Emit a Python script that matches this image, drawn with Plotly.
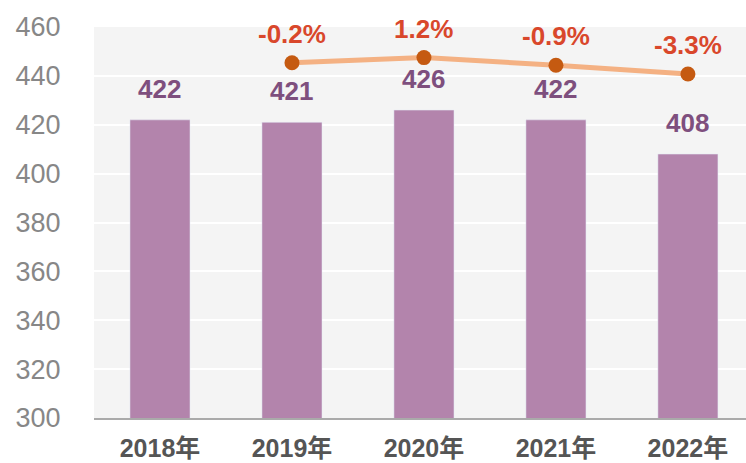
import plotly.graph_objects as go

years = ["2018年", "2019年", "2020年", "2021年", "2022年"]
values = [422, 421, 426, 422, 408]
growth_years = ["2019年", "2020年", "2021年", "2022年"]
growth = [-0.2, 1.2, -0.9, -3.3]
growth_labels = ["-0.2%", "1.2%", "-0.9%", "-3.3%"]
y_ticks = [300, 320, 340, 360, 380, 400, 420, 440, 460]

FONT = "Liberation Sans, Arial, Noto Sans CJK SC"

fig = go.Figure()
fig.add_trace(go.Bar(
    x=years, y=values, marker_color="#b384ac", width=0.455,
    hoverinfo="skip", showlegend=False, yaxis="y",
))
fig.add_trace(go.Scatter(
    x=growth_years, y=growth, mode="lines+markers", yaxis="y2",
    line=dict(color="#f4b183", width=5),
    marker=dict(color="#c55a11", size=15),
    showlegend=False, cliponaxis=False,
))

annotations = []
for x, v in zip(years, values):
    annotations.append(dict(
        x=x, y=v, xref="x", yref="y", text=f"<b>{v}</b>", showarrow=False,
        yanchor="bottom", yshift=14,
        font=dict(family=FONT, size=26, color="#7e4f7e"),
    ))
for x, g, t in zip(growth_years, growth, growth_labels):
    annotations.append(dict(
        x=x, y=g, xref="x", yref="y2", text=f"<b>{t}</b>", showarrow=False,
        yanchor="bottom", yshift=12,
        font=dict(family=FONT, size=26, color="#d9472b"),
    ))

fig.update_layout(
    width=746, height=463,
    margin=dict(l=94, r=0, t=27, b=45, autoexpand=False),
    paper_bgcolor="white", plot_bgcolor="#f4f4f4",
    font=dict(family=FONT),
    annotations=annotations,
    xaxis=dict(
        range=[-0.5, 4.44], showgrid=False, zeroline=False,
        showline=True, linecolor="#aaaaaa", linewidth=2,
        ticks="outside", ticklen=7, tickcolor="rgba(0,0,0,0)",
        tickfont=dict(family=FONT, size=25, color="#555555", weight="bold"),
        fixedrange=True, automargin=False,
    ),
    yaxis=dict(
        range=[300, 460], tickvals=y_ticks, showgrid=True,
        gridcolor="white", gridwidth=2, zeroline=False, showline=False,
        ticks="outside", ticklen=27, tickcolor="rgba(0,0,0,0)",
        tickfont=dict(family=FONT, size=27, color="#878787"),
        fixedrange=True, automargin=False,
    ),
    yaxis2=dict(
        range=[-97.8, 9.6], overlaying="y", side="right", visible=False,
        showgrid=False, zeroline=False, fixedrange=True,
    ),
)

fig.write_html("out.html")
